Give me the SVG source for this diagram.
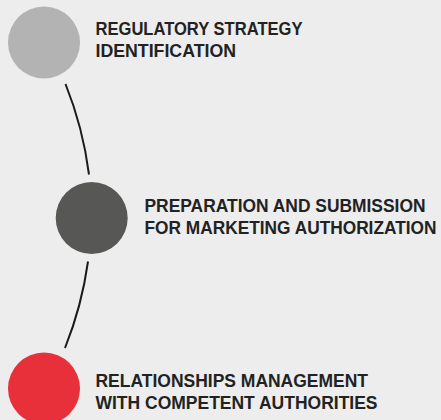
<svg xmlns="http://www.w3.org/2000/svg" width="441" height="420" viewBox="0 0 441 420">
<style>
.lbl{font-family:"Liberation Sans","Noto Sans",Arial,sans-serif;font-weight:bold;font-size:17.5px;fill:#222222}
.conn{fill:none;stroke:#1a1a1a;stroke-width:2}
</style>
<rect width="441" height="420" fill="#ededed"/>
<g id="connectors">
<path class="conn" d="M65.5,84 A367,367 0 0,1 89,174.5"/>
<path class="conn" d="M88,261.5 A367,367 0 0,1 65,348"/>
</g>
<g id="node1">
<circle cx="44" cy="42.5" r="36" fill="#b3b3b3"/>
<text class="lbl" x="95.5" y="34.5" textLength="207" lengthAdjust="spacingAndGlyphs">REGULATORY STRATEGY</text>
<text class="lbl" x="95.5" y="56.5" textLength="140.5" lengthAdjust="spacingAndGlyphs">IDENTIFICATION</text>
</g>
<g id="node2">
<circle cx="91.7" cy="218" r="36" fill="#575756"/>
<text class="lbl" x="144.5" y="211.5" textLength="281" lengthAdjust="spacingAndGlyphs">PREPARATION AND SUBMISSION</text>
<text class="lbl" x="144.5" y="233.5" textLength="292" lengthAdjust="spacingAndGlyphs">FOR MARKETING AUTHORIZATION</text>
</g>
<g id="node3">
<circle cx="44" cy="388.5" r="36" fill="#e8303a"/>
<text class="lbl" x="95.5" y="386.5" textLength="272.5" lengthAdjust="spacingAndGlyphs">RELATIONSHIPS MANAGEMENT</text>
<text class="lbl" x="95.5" y="408.5" textLength="282" lengthAdjust="spacingAndGlyphs">WITH COMPETENT AUTHORITIES</text>
</g>
</svg>
